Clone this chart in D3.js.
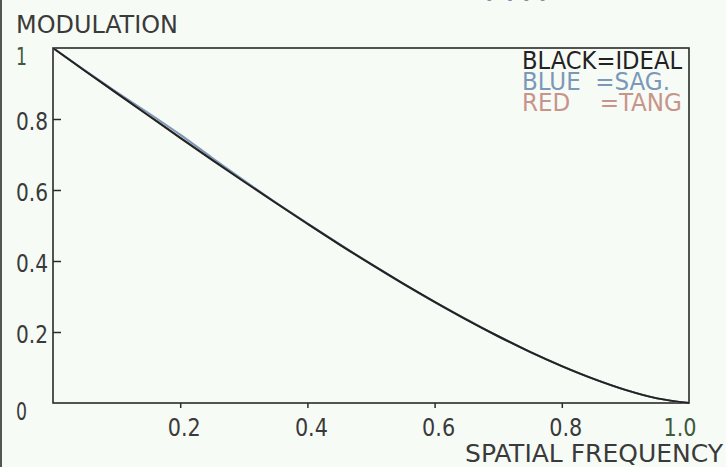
<!DOCTYPE html>
<html><head><meta charset="utf-8">
<script src="https://cdn.jsdelivr.net/npm/d3@7"></script>
<style>
html,body{margin:0;padding:0;background:#f7fbf6;}
svg{display:block;}
text{font-family:"DejaVu Sans Condensed","DejaVu Sans",sans-serif;font-weight:300;fill:#3a3a3a;}
</style></head>
<body><svg id="c" width="726" height="467"></svg>
<script>
const freq = [0,0.05,0.1,0.15,0.2,0.25,0.3,0.35,0.4,0.45,0.5,0.55,0.6,0.65,0.7,0.75,0.8,0.85,0.9,0.95,1.0];
const ideal = [1.0,0.936,0.873,0.810,0.747,0.685,0.624,0.564,0.505,0.447,0.391,0.337,0.285,0.235,0.188,0.144,0.104,0.068,0.037,0.013,0.0];
const sag   = [1.0,0.937,0.876,0.817,0.756,0.691,0.627,0.565,0.506,0.448,0.391,0.336,0.284,0.235,0.188,0.144,0.104,0.068,0.037,0.013,0.0];
const tang  = [1.0,0.936,0.873,0.811,0.748,0.686,0.625,0.564,0.505,0.447,0.392,0.337,0.285,0.236,0.188,0.144,0.104,0.068,0.037,0.013,0.0];
const xTicks = [0.2,0.4,0.6,0.8,1.0];
const xTickLabels = ["0.2","0.4","0.6","0.8","1.0"];
const yTicks = [0,0.2,0.4,0.6,0.8,1];
const yTickLabels = ["0","0.2","0.4","0.6","0.8","1"];
const legendLines = [["BLACK=IDEAL","#222"],["BLUE  =SAG.","#7b98b8"],["RED    =TANG","#c8948a"]];

const svg = d3.select("#c");
const L=53,T=48,R=689,B=403;
const x = d3.scaleLinear().domain([0,1]).range([L,R]);
const y = d3.scaleLinear().domain([0,1]).range([B,T]);

// helper: text with vertical stretch so caps are tall like the reference's font
function label(xp, yp, str, len, opts={}) {
  const g = svg.append("g").attr("transform",`translate(${xp},${yp}) scale(1,1.2)`);
  const t = g.append("text").attr("x",0).attr("y",0).attr("font-size",opts.size||20)
    .attr("textLength",len).attr("lengthAdjust","spacingAndGlyphs")
    .attr("xml:space","preserve").style("white-space","pre")
    .style("fill",opts.fill||"#3a3a3a").text(str);
  if (opts.anchor) t.attr("text-anchor",opts.anchor);
  return t;
}

// left image border
svg.append("line").attr("x1",1).attr("x2",1).attr("y1",0).attr("y2",467).attr("stroke","#555").attr("stroke-width",2);

// clipped top text (bottom edge only visible, as in the reference)
svg.append("text").attr("x",484).attr("y",1).attr("font-size",20).attr("textLength",74)
  .attr("lengthAdjust","spacingAndGlyphs").style("fill","#7d94ae").text("MTF");

// frame
svg.append("rect").attr("x",L).attr("y",T).attr("width",R-L).attr("height",B-T)
  .attr("fill","none").attr("stroke","#2a2a2a").attr("stroke-width",1.6);

// y ticks (inside)
const yAxis = d3.axisRight(y).tickValues(yTicks.filter(v=>v>0&&v<1)).tickSize(8).tickFormat("");
svg.append("g").attr("transform",`translate(${L},0)`).call(yAxis)
  .call(g=>{g.select(".domain").remove();g.selectAll("line").attr("stroke","#2a2a2a").attr("stroke-width",1.5);});
// x ticks (outside, down)
const xAxis = d3.axisBottom(x).tickValues(xTicks.filter(v=>v<1)).tickSize(5).tickFormat("");
svg.append("g").attr("transform",`translate(0,${B})`).call(xAxis)
  .call(g=>{g.select(".domain").remove();g.selectAll("line").attr("stroke","#2a2a2a").attr("stroke-width",1.5);});

// y labels
yTicks.forEach((v,i)=>{
  const lab=yTickLabels[i];
  const off = (v===1||v===0)?17:11;
  label(16, y(v)+off, lab, lab.length===1?11:32, {fill: v===1?"#3c5a3c":"#3a3a3a"});
});
// x labels
xTicks.forEach((v,i)=>{
  const cx = v===1? x(v)-9 : x(v)+4;
  label(cx, 436, xTickLabels[i], 33, {anchor:"middle", fill: v===1?"#3c5a3c":"#3a3a3a"});
});

// titles
label(16, 33, "MODULATION", 162);
label(465, 462, "SPATIAL FREQUENCY", 258);

// legend
const lw=[160,148,160];
legendLines.forEach((d,i)=>{
  label(522, 69+i*21, d[0], lw[i], {fill:d[1]});
});

// curves
const line = d3.line().x((d,i)=>x(freq[i])).y(d=>y(d)).curve(d3.curveMonotoneX);
[[tang,"#c8948a"],[sag,"#7b98b8"],[ideal,"#222"]].forEach(([s,c])=>{
  svg.append("path").datum(s).attr("d",line).attr("fill","none").attr("stroke",c).attr("stroke-width",2);
});
</script></body></html>
